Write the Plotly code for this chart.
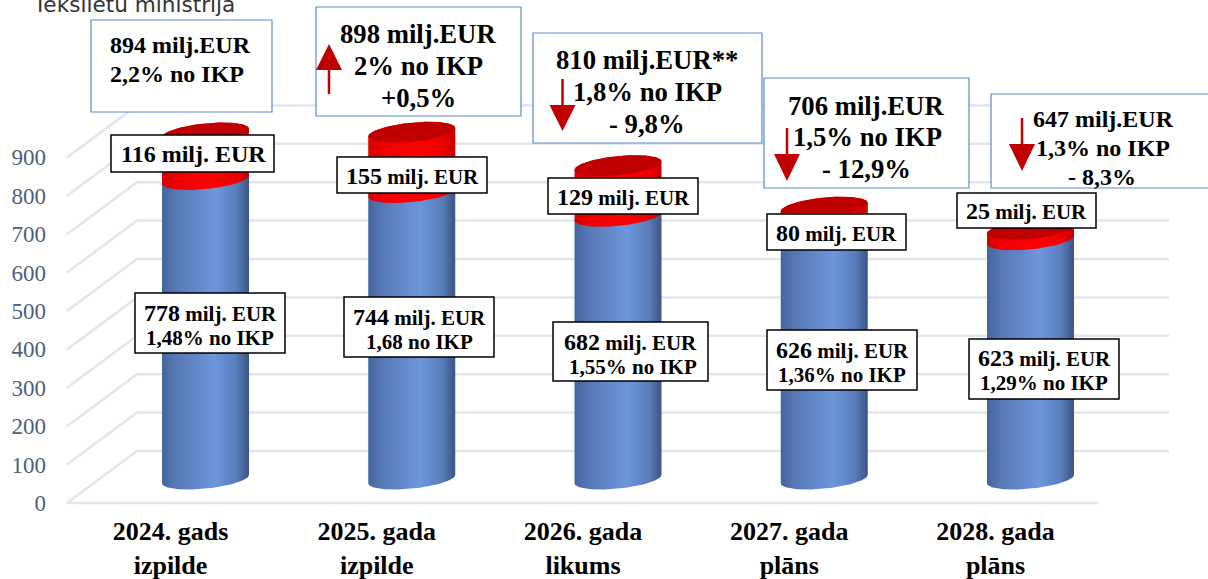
import numpy as np
import plotly.graph_objects as go

# ---------- data ----------
categories = ["2024. gads<br>izpilde", "2025. gada<br>izpilde", "2026. gada<br>likums",
              "2027. gada<br>plāns", "2028. gada<br>plāns"]
base_values = [780, 746, 684, 626, 623]     # blue cylinder
top_values = [121, 157, 132, 82, 27]        # red cylinder
tick_values = [0, 100, 200, 300, 400, 500, 600, 700, 800, 900]

# ---------- scale of the page ----------
W, H = 1208, 579
PX_PER_CAT = 206.25
PX_PER_UNIT = 0.384
ZERO_X, ZERO_Y = 205.5, 503
ML, MB = 47, 66
SERIF = "Liberation Serif"


def X(px):
    return (px - ZERO_X) / PX_PER_CAT


def Y(py):
    return (ZERO_Y - py) / PX_PER_UNIT


DX = 70 / PX_PER_CAT          # depth of the 3D floor
DY = 52 / PX_PER_UNIT
FRONT_SHIFT = -35 / PX_PER_CAT
CYL_LIFT = 24 / PX_PER_UNIT
HALF = 43.5 / PX_PER_CAT
MINOR = 9.6 / PX_PER_UNIT
TILT = 4.2 / PX_PER_UNIT
BACK_LEFT, BACK_RIGHT = X(137), X(1169)
FLOOR_LEFT, FLOOR_RIGHT = X(67), X(1098)
t_vals = np.linspace(0, np.pi, 60)

BLUE_SCALE = [[0, "#45659d"], [.15, "#5677b3"], [.6, "#6d96dd"], [.85, "#5a7dbb"], [1, "#3b5585"]]
RED_SCALE = [[0, "#d80000"], [.2, "#f00000"], [.55, "#ff0000"], [.85, "#ee0000"], [1, "#c80000"]]
GRID = "#e2e6ee"

fig = go.Figure()

# ---------- grid of the 3D wall ----------
for v in tick_values:
    fig.add_trace(go.Scatter(x=[BACK_LEFT - DX, BACK_LEFT, BACK_RIGHT], y=[v, v + DY, v + DY],
                             mode="lines", line=dict(color=GRID, width=2.5), hoverinfo="skip"))
fig.add_trace(go.Scatter(x=[FLOOR_LEFT, FLOOR_RIGHT], y=[0, 0], mode="lines",
                         line=dict(color=GRID, width=2.5), hoverinfo="skip"))


def side(i, lo, hi, scale):
    # lower arc of the bottom ellipse, then upper arc of the top ellipse
    xa = i + HALF * np.cos(t_vals)
    ya = lo - MINOR * np.sin(t_vals) + TILT * np.cos(t_vals)
    xb = i - HALF * np.cos(t_vals)
    yb = hi + MINOR * np.sin(t_vals) - TILT * np.cos(t_vals)
    return go.Scatter(x=np.r_[xa, xb, xa[0]], y=np.r_[ya, yb, ya[0]], mode="lines", fill="toself",
                      line=dict(width=0), fillgradient=dict(type="horizontal", colorscale=scale),
                      hoverinfo="skip")


for i, (b, t) in enumerate(zip(base_values, top_values)):
    fig.add_trace(side(i, CYL_LIFT, CYL_LIFT + b, BLUE_SCALE))
    fig.add_trace(side(i, CYL_LIFT + b, CYL_LIFT + b + t, RED_SCALE))
    tt = np.linspace(0, 2 * np.pi, 120)
    fig.add_trace(go.Scatter(x=i + HALF * np.cos(tt),
                             y=CYL_LIFT + b + t + MINOR * np.sin(tt) + TILT * np.cos(tt),
                             mode="lines", fill="toself", fillcolor="#c00000",
                             line=dict(width=0), hoverinfo="skip"))

# ---------- boxes and texts (page pixels) ----------
shapes, annotations = [], []


def box(x0, y0, x1, y1, color, width):
    shapes.append(dict(type="rect", xref="x", yref="y", x0=X(x0), x1=X(x1), y0=Y(y0), y1=Y(y1),
                       fillcolor="white", line=dict(color=color, width=width), layer="above"))


def text(cx, cy, s, size):
    annotations.append(dict(xref="x", yref="y", x=X(cx), y=Y(cy), text=s, showarrow=False,
                            xanchor="center", yanchor="middle",
                            font=dict(family=SERIF, size=size, color="black")))


def arrow(cx, shaft_end, base, apex, half=13):
    path = f"M {X(cx - half)} {Y(base)} L {X(cx + half)} {Y(base)} L {X(cx)} {Y(apex)} Z"
    shapes.append(dict(type="path", xref="x", yref="y", path=path, fillcolor="#c00000",
                       line=dict(width=0), layer="above"))
    shapes.append(dict(type="line", xref="x", yref="y", x0=X(cx), x1=X(cx), y0=Y(shaft_end), y1=Y(base),
                       line=dict(color="#c00000", width=2.5), layer="above"))


OUT = "#5b8ccc"
box(91, 20, 272, 112, OUT, 1.2)
text(180, 45, "<b>894 milj.EUR</b>", 24)
text(177, 74, "<b>2,2% no IKP</b>", 24)

box(316, 7, 521, 116, OUT, 1.2)
text(418, 34, "<b>898 milj.EUR</b>", 26.7)
text(418, 66, "<b>2% no IKP</b>", 26.7)
text(418, 98, "<b>+0,5%</b>", 26.7)
arrow(329, 94, 70, 44)

box(533, 33, 762, 143, OUT, 1.2)
text(647, 60, "<b>810 milj.EUR**</b>", 26.7)
text(647, 92, "<b>1,8% no IKP</b>", 26.7)
text(647, 124, "<b>- 9,8%</b>", 26.7)
arrow(562.5, 79, 105, 131)

box(764, 78, 969, 188, OUT, 1.2)
text(866, 106, "<b>706 milj.EUR</b>", 26.7)
text(867, 137, "<b>1,5% no IKP</b>", 26.7)
text(866, 169, "<b>- 12,9%</b>", 26.7)
arrow(787, 128, 154, 181)

box(991, 94, 1209, 188, OUT, 1.2)
text(1103, 119, "<b>647 milj.EUR</b>", 24)
text(1103, 148, "<b>1,3% no IKP</b>", 24)
text(1102, 177, "<b>- 8,3%</b>", 24)
arrow(1022, 118, 144, 171)


def mixed(num, size=24):
    return f"<b><span style='font-size:{size}px'>{num}</span> milj. EUR</b>"


BLK = "#000000"
box(111, 135, 274, 172, BLK, 1.5)
text(193, 154, "<b>116 milj. EUR</b>", 24)
box(337, 157, 487, 193, BLK, 1.5)
text(412, 176, mixed(155), 21)
box(548, 178, 698, 214, BLK, 1.5)
text(623, 197, mixed(129), 21)
box(767, 214, 906, 250, BLK, 1.5)
text(836, 233, mixed(80), 21)
box(957, 193, 1096, 228, BLK, 1.5)
text(1026, 211, mixed(25), 21)

box(135, 293, 285, 353, BLK, 1.5)
text(210, 313, mixed(778), 21)
text(210, 338, "<b>1,48% no IKP</b>", 21)
box(344, 297, 494, 357, BLK, 1.5)
text(419, 317, mixed(744), 21)
text(419, 342, "<b>1,68 no IKP</b>", 21)
box(553, 322, 708, 381, BLK, 1.5)
text(630, 342, mixed(682), 21)
text(633, 367, "<b>1,55% no IKP</b>", 21)
box(767, 330, 917, 390, BLK, 1.5)
text(842, 350, mixed(626), 21)
text(842, 375, "<b>1,36% no IKP</b>", 21)
box(969, 339, 1119, 399, BLK, 1.5)
text(1044, 358, mixed(623), 21)
text(1044, 383, "<b>1,29% no IKP</b>", 21)

annotations.append(dict(xref="x", yref="y", x=X(136), y=Y(4), text="Iekšlietu ministrija", showarrow=False,
                        xanchor="center", yanchor="middle",
                        font=dict(family="DejaVu Sans", size=21.6, color="#333333")))

fig.update_layout(
    width=W, height=H, autosize=False, showlegend=False,
    paper_bgcolor="white", plot_bgcolor="white",
    margin=dict(l=ML, r=0, t=0, b=MB, pad=0),
    shapes=shapes, annotations=annotations,
    xaxis=dict(range=[X(ML), X(W)], showgrid=False, zeroline=False, showline=False, automargin=False,
               tickmode="array", tickvals=[i + FRONT_SHIFT for i in range(len(categories))],
               ticktext=[f"<b>{c}</b>".replace("<br>", "</b><br><b>") for c in categories],
               tickfont=dict(family=SERIF, size=26, color="black"), ticks="", fixedrange=True),
    yaxis=dict(range=[Y(H - MB), Y(0)], showgrid=False, zeroline=False, showline=False, automargin=False,
               tickmode="array", tickvals=tick_values, ticks="",
               tickfont=dict(family=SERIF, size=23, color="#4d5f7c"), fixedrange=True),
)

fig.write_html("out.html", config=dict(displayModeBar=False),
               post_script="document.body.style.margin='0';document.body.style.overflow='hidden';")
